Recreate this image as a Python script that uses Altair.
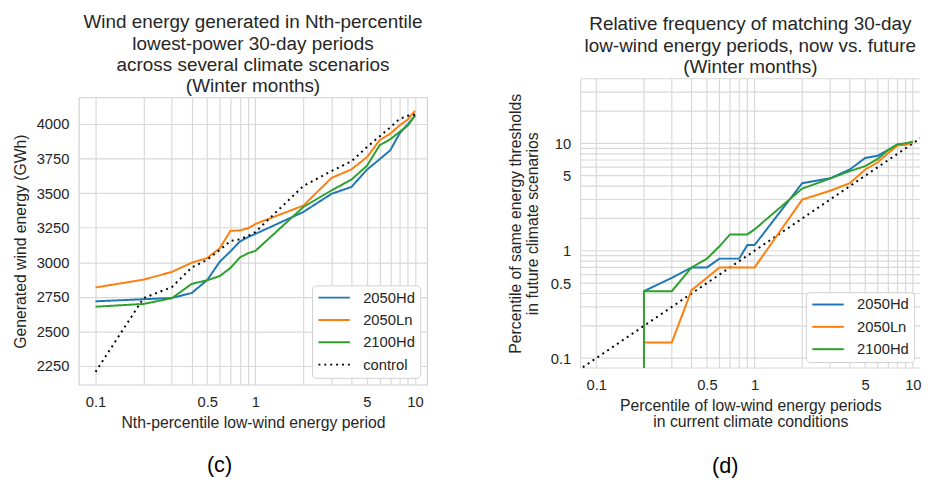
import altair as alt
import pandas as pd

FONT = "Liberation Sans"
TXT = "#262626"
GRID = "#d9d9d9"

# ---------------- data: panel (c) ----------------
x_left = [0.1, 0.2, 0.3, 0.4, 0.5, 0.6, 0.7, 0.8, 0.9, 1, 2, 3, 4, 5, 6, 7, 8, 9, 10]
left_2050Hd = [2718, 2733, 2742, 2778, 2872, 3005, 3080, 3150, 3182, 3205, 3364, 3495, 3545, 3670, 3745, 3810, 3932, 3997, 4060]
left_2050Ln = [2818, 2875, 2930, 2997, 3031, 3103, 3228, 3230, 3246, 3277, 3410, 3610, 3672, 3760, 3883, 3930, 3990, 4032, 4095]
left_2100Hd = [2679, 2699, 2740, 2844, 2870, 2901, 2960, 3034, 3066, 3082, 3400, 3520, 3598, 3698, 3846, 3890, 3943, 3988, 4063]
left_control = [2208, 2742, 2820, 2962, 3018, 3090, 3155, 3166, 3190, 3218, 3552, 3660, 3730, 3834, 3910, 3976, 4036, 4059, 4068]
left_series = ["2050Hd", "2050Ln", "2100Hd", "control"]
left_colors = ["#1f77b4", "#ff7f0e", "#2ca02c", "#000000"]
left_y_ticks = [2250, 2500, 2750, 3000, 3250, 3500, 3750, 4000]
left_x_domain = [0.0786, 11.9]
left_y_domain = [2115, 4192]

# ---------------- data: panel (d) ----------------
x_right = [0.2, 0.3, 0.4, 0.5, 0.6, 0.7, 0.8, 0.9, 1, 2, 3, 4, 5, 6, 7, 8, 9, 10]
right_2050Hd = [0.42, 0.56, 0.70, 0.70, 0.845, 0.845, 0.845, 1.13, 1.13, 4.26, 4.73, 5.71, 7.31, 7.68, 8.71, 9.7, 10.0, 10.2]
right_2050Ln = [0.14, 0.14, 0.43, 0.56, 0.70, 0.70, 0.70, 0.70, 0.70, 2.99, 3.62, 4.26, 5.71, 6.67, 8.13, 9.55, 9.7, 10.2]
right_2100Hd = [0.42, 0.42, 0.70, 0.845, 1.10, 1.42, 1.42, 1.42, 1.58, 3.8, 4.7, 5.52, 6.14, 7.16, 8.71, 9.83, 10.0, 10.4]
right_2100Hd_first = (0.2, 0.05)   # first value falls below the log axis
right_series = ["2050Hd", "2050Ln", "2100Hd"]
right_colors = ["#1f77b4", "#ff7f0e", "#2ca02c"]
identity_vals = [0.05, 20]
right_x_domain = [0.0796, 11.1]
right_y_domain = [0.081, 40]

# grid / label values
log_grid_x = [0.1, 0.2, 0.3, 0.4, 0.5, 0.6, 0.7, 0.8, 0.9, 1, 2, 3, 4, 5, 6, 7, 8, 9, 10]
log_grid_y = log_grid_x + [20, 30, 40]
log_labels = [0.1, 0.5, 1, 5, 10]

LABEL_EXPR = "indexof([" + ",".join(str(v) for v in log_labels) + "], datum.value) >= 0 ? datum.label : ''"

# layout of the two panels (px)
LEFT_W, LEFT_H = 354, 292
RIGHT_W, RIGHT_H = 345, 294
RIGHT_RAISE = 19          # right plot area starts this much higher than the left one

# ---------------- tables ----------------
rows = []
for name, vals in zip(left_series, [left_2050Hd, left_2050Ln, left_2100Hd, left_control]):
    for i, (x, v) in enumerate(zip(x_left, vals)):
        rows.append({"s": name, "x": x, "v": v, "i": i})
left_df = pd.DataFrame(rows)

rows = []
for name, vals in zip(right_series, [right_2050Hd, right_2050Ln, right_2100Hd]):
    i0 = 0
    if name == "2100Hd":
        rows.append({"s": name, "x": right_2100Hd_first[0], "v": right_2100Hd_first[1], "i": 0})
        i0 = 1
    for i, (x, v) in enumerate(zip(x_right, vals)):
        rows.append({"s": name, "x": x, "v": v, "i": i + i0})
right_df = pd.DataFrame(rows)
ident_df = pd.DataFrame({"x": identity_vals, "v": identity_vals})
vgrid_df = pd.DataFrame({"x": right_x_domain[:1] + log_grid_x})
hgrid_df = pd.DataFrame({"v": right_y_domain[:1] + log_grid_y})


def legend(offset):
    return alt.Legend(
        orient="bottom-right", offset=offset, title=None, symbolType="M-1,0H4.33",
        symbolSize=144, symbolStrokeWidth=2, labelFontSize=15, labelFont=FONT,
        labelColor=TXT, fillColor="white", strokeColor="#d0d0d0", cornerRadius=4,
        padding=5, rowPadding=6.7, labelOffset=32,
    )


def title(lines, offset):
    return alt.TitleParams(
        text=lines, fontSize=19.2, font=FONT, fontWeight="normal", color=TXT,
        anchor="middle", frame="group", lineHeight=21.7, offset=offset,
    )


AX = dict(labelFont=FONT, titleFont=FONT, labelFontSize=15, titleFontSize=16,
          labelColor=TXT, titleColor=TXT, gridColor=GRID, gridWidth=1.2,
          domain=False, ticks=False, labelPadding=10, titleFontWeight="normal")

# ---------------- panel (c) ----------------
lx = alt.X("x:Q", scale=alt.Scale(type="log", domain=left_x_domain, nice=False),
           axis=alt.Axis(values=log_grid_x, labelExpr=LABEL_EXPR, format="~g",
                         title="Nth-percentile low-wind energy period", titlePadding=5, **AX))
ly = alt.Y("v:Q", scale=alt.Scale(domain=left_y_domain, nice=False, zero=False),
           axis=alt.Axis(values=left_y_ticks, format="d", title="Generated wind energy (GWh)",
                         titlePadding=8, **AX))

left_lines = alt.Chart(left_df).mark_line(strokeWidth=2, clip=True).encode(
    x=lx, y=ly,
    color=alt.Color("s:N", scale=alt.Scale(domain=left_series, range=left_colors), legend=legend(7)),
    strokeDash=alt.StrokeDash("s:N", scale=alt.Scale(domain=left_series,
                              range=[[1, 0], [1, 0], [1, 0], [2, 4]]), legend=legend(7)),
    order="i:Q",
)
left_tag = alt.Chart(pd.DataFrame({"t": ["(c)"]})).mark_text(
    fontSize=22, font=FONT, color="black").encode(text="t:N", x=alt.value(143), y=alt.value(374))

left = alt.layer(left_lines, left_tag).properties(
    width=LEFT_W, height=LEFT_H,
    view=alt.ViewBackground(stroke="#d0d0d0", strokeWidth=1.2),
    title=title(["Wind energy generated in Nth-percentile", "lowest-power 30-day periods",
                 "across several climate scenarios", "(Winter months)"], 1))

# ---------------- panel (d) ----------------
rh = RIGHT_H - RIGHT_RAISE
rx = alt.X("x:Q", scale=alt.Scale(type="log", domain=right_x_domain, nice=False),
           axis=alt.Axis(values=log_grid_x, labelExpr=LABEL_EXPR, format="~g", grid=False,
                         title=["Percentile of low-wind energy periods", "in current climate conditions"],
                         titlePadding=5, titleLineHeight=16, **AX))
ry = alt.Y("v:Q", scale=alt.Scale(type="log", domain=right_y_domain, nice=False,
                                  range=[rh, -RIGHT_RAISE]),
           axis=alt.Axis(values=log_grid_y, labelExpr=LABEL_EXPR, format="~g", grid=False,
                         title=["Percentile of same energy thresholds", "in future climate scenarios"],
                         titlePadding=10, titleLineHeight=17, titleY=(rh - RIGHT_RAISE) / 2, **AX))

# grid lines spanning the whole (raised) plot area, drawn through the scales
right_vgrid = alt.Chart(vgrid_df).mark_rule(color=GRID, strokeWidth=1.2).encode(
    x=rx, y=alt.datum(right_y_domain[1]), y2=alt.datum(right_y_domain[0]))
right_hgrid = alt.Chart(hgrid_df).mark_rule(color=GRID, strokeWidth=1.2).encode(
    y=ry, x=alt.datum(right_x_domain[0]), x2=alt.datum(right_x_domain[1]))
right_ident = alt.Chart(ident_df).mark_line(strokeWidth=2, color="black", strokeDash=[2, 4], clip=True).encode(
    x=rx, y=ry)
right_lines = alt.Chart(right_df).mark_line(strokeWidth=2, clip=True).encode(
    x=rx, y=ry,
    color=alt.Color("s:N", scale=alt.Scale(domain=right_series, range=right_colors), legend=legend(6)),
    order="i:Q",
)
right_tag = alt.Chart(pd.DataFrame({"t": ["(d)"]})).mark_text(
    fontSize=22, font=FONT, color="black").encode(text="t:N", x=alt.value(147), y=alt.value(375))

right = alt.layer(right_vgrid, right_hgrid, right_ident, right_lines, right_tag).properties(
    width=RIGHT_W, height=rh,
    view=alt.ViewBackground(stroke="transparent"),
    title=title(["Relative frequency of matching 30-day", "low-wind energy periods, now vs. future",
                 "(Winter months)"], 1))

chart = alt.hconcat(left, right, spacing=80).resolve_scale(
    color="independent", strokeDash="independent", x="independent", y="independent"
).resolve_legend(color="independent", strokeDash="independent").properties(
    padding={"left": 4, "top": 1, "right": 0, "bottom": 0}
)

chart.save("out.html", embed_options={"renderer": "svg", "actions": False})
